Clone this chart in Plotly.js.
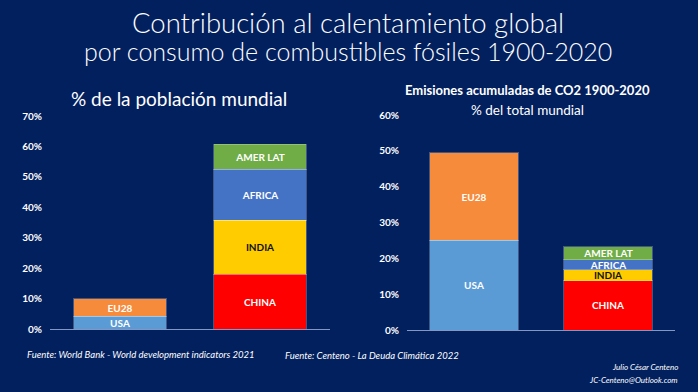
<!DOCTYPE html>
<html><head><meta charset="utf-8">
<script src="https://cdn.plot.ly/plotly-3.0.1.min.js"></script>
<style>html,body{margin:0;padding:0;background:#02205e;}#chart{width:698px;height:392px;}</style>
</head><body><div id="chart"></div>
<script>
// Data
const groups = ["G1", "G2"];
const regions = ["USA", "EU28", "CHINA", "INDIA", "AFRICA", "AMER LAT"];
const regionGroup = ["G1", "G1", "G2", "G2", "G2", "G2"];
const populationPct = [4.2, 5.7, 18.0, 17.7, 16.8, 8.2];
const emissionsPct = [25.1, 24.3, 13.7, 3.1, 2.8, 3.6];
const regionColors = ["#5b9bd5", "#f68b3c", "#ff0000", "#ffcc00", "#4472c4", "#70ad47"];
const labelColors = ["#ffffff", "#ffffff", "#ffffff", "#111111", "#ffffff", "#ffffff"];
const popTicks = [0, 10, 20, 30, 40, 50, 60, 70];
const emTicks = [0, 10, 20, 30, 40, 50, 60];

const FONT = "Lato, 'Open Sans', sans-serif";
const traces = [];
regions.forEach((r, i) => {
  [["x", "y", populationPct], ["x2", "y2", emissionsPct]].forEach(([xa, ya, vals]) => {
    traces.push({
      type: "bar", x: [regionGroup[i]], y: [vals[i]], xaxis: xa, yaxis: ya, name: r,
      marker: {color: regionColors[i], line: {color: "rgba(255,255,255,0.25)", width: 1}},
      text: [r], textposition: "inside", insidetextanchor: "middle", constraintext: "none",
      textfont: {family: FONT, size: 10, color: labelColors[i], weight: 700},
      hoverinfo: "skip", showlegend: false
    });
  });
});

const axisY = (ticks, dom) => ({
  domain: dom, range: [0, ticks[ticks.length - 1]], tickvals: ticks,
  ticktext: ticks.map(t => t + "%"), showgrid: false, zeroline: false, showline: false,
  ticks: "", ticklabelstandoff: 7,
  tickfont: {family: FONT, size: 10, color: "#ffffff", weight: 700}, fixedrange: true
});
const axisX = (dom, anchor) => ({
  domain: dom, anchor: anchor, type: "category", categoryarray: groups, range: [-0.5, 1.5],
  showticklabels: false, ticks: "", showgrid: false, zeroline: false,
  showline: true, linecolor: "#8496c4", linewidth: 1
});

const ann = (text, x, y, size, opts = {}) => Object.assign({
  text: text, x: x, y: y, xref: "paper", yref: "paper", showarrow: false,
  xanchor: "center", yanchor: "middle",
  font: {family: FONT, size: size, color: "#ffffff"}
}, opts);

const layout = {
  width: 698, height: 392, margin: {l: 0, r: 0, t: 0, b: 0},
  paper_bgcolor: "#02205e", plot_bgcolor: "#02205e",
  barmode: "stack", bargap: 0.34, showlegend: false,
  xaxis: axisX([50 / 698, 330 / 698], "y"),
  yaxis: axisY(popTicks, [(392 - 329) / 392, (392 - 116) / 392]),
  xaxis2: axisX([407 / 698, 675 / 698], "y2"),
  yaxis2: Object.assign(axisY(emTicks, [(392 - 330) / 392, (392 - 115) / 392]), {anchor: "x2"}),
  annotations: [
    ann("Contribución al calentamiento global", 348 / 698, 1 - 22 / 392, 27, {font: {family: FONT, size: 27.5, color: "#ffffff", weight: 300}}),
    ann("por consumo de combustibles fósiles 1900-2020", 348 / 698, 1 - 51 / 392, 25, {font: {family: FONT, size: 25, color: "#ffffff", weight: 300}}),
    ann("% de la población mundial", 179 / 698, 1 - 98 / 392, 19),
    ann("<b>Emisiones acumuladas de CO2 1900-2020</b>", 527 / 698, 1 - 90 / 392, 13),
    ann("% del total mundial", 527 / 698, 1 - 110 / 392, 13.5),
    ann("<i>Fuente: World Bank - World development indicators 2021</i>", 25 / 698, 1 - 354 / 392, 9.5, {xanchor: "left"}),
    ann("<i>Fuente: Centeno - La Deuda Climática 2022</i>", 283 / 698, 1 - 355 / 392, 9.5, {xanchor: "left"}),
    ann("<i>Julio César Centeno</i>", 680 / 698, 1 - 367 / 392, 8, {xanchor: "right"}),
    ann("<i>JC-Centeno@Outlook.com</i>", 680 / 698, 1 - 380 / 392, 8, {xanchor: "right"})
  ]
};

Plotly.newPlot("chart", traces, layout, {staticPlot: true, displayModeBar: false});
</script></body></html>
